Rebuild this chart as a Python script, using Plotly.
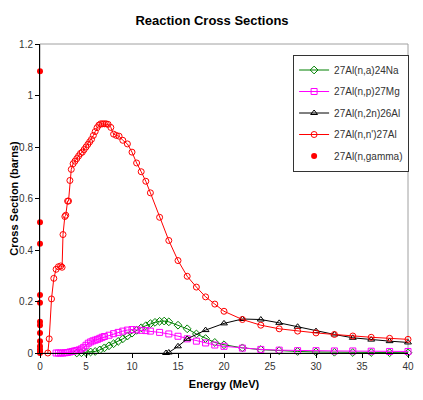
import plotly.graph_objects as go

# 27Al(n,a)24Na
na_energy = [4.0, 4.5, 5.0, 5.5, 6.0, 6.5, 7.0, 7.5, 8.0, 8.5, 9.0, 9.5, 10.0, 10.5,
             11.0, 11.5, 12.0, 12.5, 13.0, 13.5, 14.0, 15.0, 16.0, 17.0, 18.0, 19.0,
             20.0, 22.0, 24.0, 26.0, 28.0, 30.0, 32.0, 34.0, 36.0, 38.0, 40.0]
na_xs = [0.0, 0.001, 0.002, 0.004, 0.006, 0.012, 0.02, 0.028, 0.036, 0.045, 0.055,
         0.066, 0.077, 0.088, 0.098, 0.106, 0.114, 0.119, 0.123, 0.124, 0.121, 0.108,
         0.094, 0.074, 0.056, 0.041, 0.032, 0.02, 0.013, 0.009, 0.006, 0.004, 0.003,
         0.002, 0.002, 0.001, 0.001]

# 27Al(n,p)27Mg
np_energy = [1.75, 2.0, 2.25, 2.5, 2.75, 3.0, 3.25, 3.5, 3.75, 4.0, 4.25, 4.5, 4.75,
             5.0, 5.25, 5.5, 5.75, 6.0, 6.25, 6.5, 6.75, 7.0, 7.5, 8.0, 8.5, 9.0, 9.5,
             10.0, 10.5, 11.0, 11.5, 12.0, 13.0, 14.0, 15.0, 16.0, 17.0, 18.0, 19.0,
             20.0, 22.0, 24.0, 26.0, 28.0, 30.0, 32.0, 34.0, 36.0, 38.0, 40.0]
np_xs = [0.0, 0.0, 0.0, 0.0, 0.001, 0.002, 0.004, 0.006, 0.008, 0.01, 0.012, 0.016,
         0.022, 0.03, 0.038, 0.043, 0.047, 0.05, 0.053, 0.057, 0.061, 0.064, 0.069,
         0.075, 0.08, 0.085, 0.089, 0.091, 0.09, 0.088, 0.087, 0.085, 0.08, 0.074,
         0.065, 0.055, 0.046, 0.039, 0.031, 0.026, 0.019, 0.014, 0.011, 0.009, 0.009,
         0.008, 0.008, 0.007, 0.006, 0.006]

# 27Al(n,2n)26Al
n2n_energy = [13.7, 14.0, 15.0, 16.0, 18.0, 20.0, 22.0, 24.0, 26.0, 28.0, 30.0,
              32.0, 34.0, 36.0, 38.0, 40.0]
n2n_xs = [0.0, 0.002, 0.026, 0.055, 0.089, 0.115, 0.132, 0.13, 0.117, 0.102, 0.085,
          0.072, 0.059, 0.052, 0.046, 0.041]

# 27Al(n,n')27Al
nn_energy = [0.85, 1.0, 1.25, 1.5, 1.75, 2.0, 2.25, 2.4, 2.5, 2.7, 2.8, 3.0, 3.1,
             3.25, 3.4, 3.6, 3.8, 4.0, 4.2, 4.4, 4.6, 4.8, 5.0, 5.2, 5.4, 5.6, 5.8,
             6.0, 6.2, 6.4, 6.6, 6.8, 7.0, 7.2, 7.4, 7.7, 8.0, 8.3, 8.6, 9.0, 9.5,
             10.0, 10.5, 11.0, 11.5, 12.0, 13.0, 14.0, 15.0, 16.0, 17.0, 18.0, 19.0,
             20.0, 22.0, 24.0, 26.0, 28.0, 30.0, 32.0, 34.0, 36.0, 38.0, 40.0]
nn_xs = [0.0, 0.055, 0.21, 0.29, 0.325, 0.335, 0.338, 0.333, 0.46, 0.53, 0.535, 0.59,
         0.59, 0.67, 0.713, 0.735, 0.745, 0.755, 0.765, 0.775, 0.78, 0.79, 0.8, 0.81,
         0.82, 0.83, 0.845, 0.86, 0.875, 0.885, 0.89, 0.89, 0.89, 0.89, 0.888, 0.876,
         0.85, 0.845, 0.842, 0.826, 0.812, 0.78, 0.738, 0.704, 0.667, 0.622, 0.527,
         0.437, 0.359, 0.298, 0.256, 0.218, 0.19, 0.162, 0.13, 0.108, 0.094, 0.085,
         0.078, 0.072, 0.066, 0.061, 0.057, 0.053]

# 27Al(n,gamma)
ng_energy = [0.0] * 13
ng_xs = [1.094, 0.508, 0.424, 0.225, 0.195, 0.121, 0.108, 0.078, 0.046, 0.026,
         0.015, 0.005, 0.0]

FONT = "Arial, Liberation Sans, sans-serif"

fig = go.Figure()


def add_series(x, y, name, color, symbol):
    fig.add_trace(go.Scatter(
        x=x, y=y, name=name, legendgroup=name, mode="lines+markers",
        line=dict(color=color, width=1),
        marker=dict(symbol=symbol, size=6, color=color,
                    line=dict(color=color, width=1)),
        cliponaxis=False,
    ))


add_series(na_energy, na_xs, "27Al(n,a)24Na", "#008000", "diamond-open")
add_series(np_energy, np_xs, "27Al(n,p)27Mg", "#FF00FF", "square-open")
add_series(n2n_energy, n2n_xs, "27Al(n,2n)26Al", "#000000", "triangle-up-open")
add_series(nn_energy, nn_xs, "27Al(n,n')27Al", "#FF0000", "circle-open")
fig.add_trace(go.Scatter(
    x=ng_energy, y=ng_xs, name="27Al(n,gamma)", legendgroup="gamma", mode="markers",
    marker=dict(symbol="circle", size=6, color="#FF0000"),
    cliponaxis=False,
))

# gray frame on top/right of plot area
fig.add_shape(type="rect", xref="paper", yref="paper", x0=0, x1=1, y0=0, y1=1,
              line=dict(color="#A0A0A0", width=1), layer="below")

# the page body adds an 8px margin, so the figure is 8px smaller each way
fig.update_layout(
    width=415, height=392,
    margin=dict(l=31.5, r=15, t=35.5, b=46.5),
    paper_bgcolor="white", plot_bgcolor="white",
    font=dict(family=FONT, size=10, color="#333333"),
    title=dict(text="<b>Reaction Cross Sections</b>", x=0.4916, xref="container",
               y=0.969, yref="container", xanchor="center", yanchor="middle",
               font=dict(size=13, color="#000000")),
    showlegend=True,
    legend=dict(x=1.003, xanchor="right", y=0.966, yanchor="top",
                bordercolor="#333333", borderwidth=1, bgcolor="white",
                font=dict(size=10, color="#333333"), itemwidth=30,
                tracegroupgap=2.5),
)
fig.update_xaxes(
    range=[0, 40], dtick=5, showgrid=False, zeroline=False, automargin=False,
    showline=True, linecolor="#000000", linewidth=1,
    ticks="outside", ticklen=4, tickcolor="#000000",
    title=dict(text="<b>Energy (MeV)</b>", font=dict(size=11, color="#000000"),
               standoff=9),
)
fig.update_yaxes(
    range=[0, 1.2], dtick=0.2, showgrid=False, zeroline=False, automargin=False,
    showline=True, linecolor="#000000", linewidth=1,
    ticks="outside", ticklen=4, tickcolor="#000000",
    title=dict(text="<b>Cross Section (barns)</b>", font=dict(size=11, color="#000000"),
               standoff=0),
)

fig.write_html("out.html")
